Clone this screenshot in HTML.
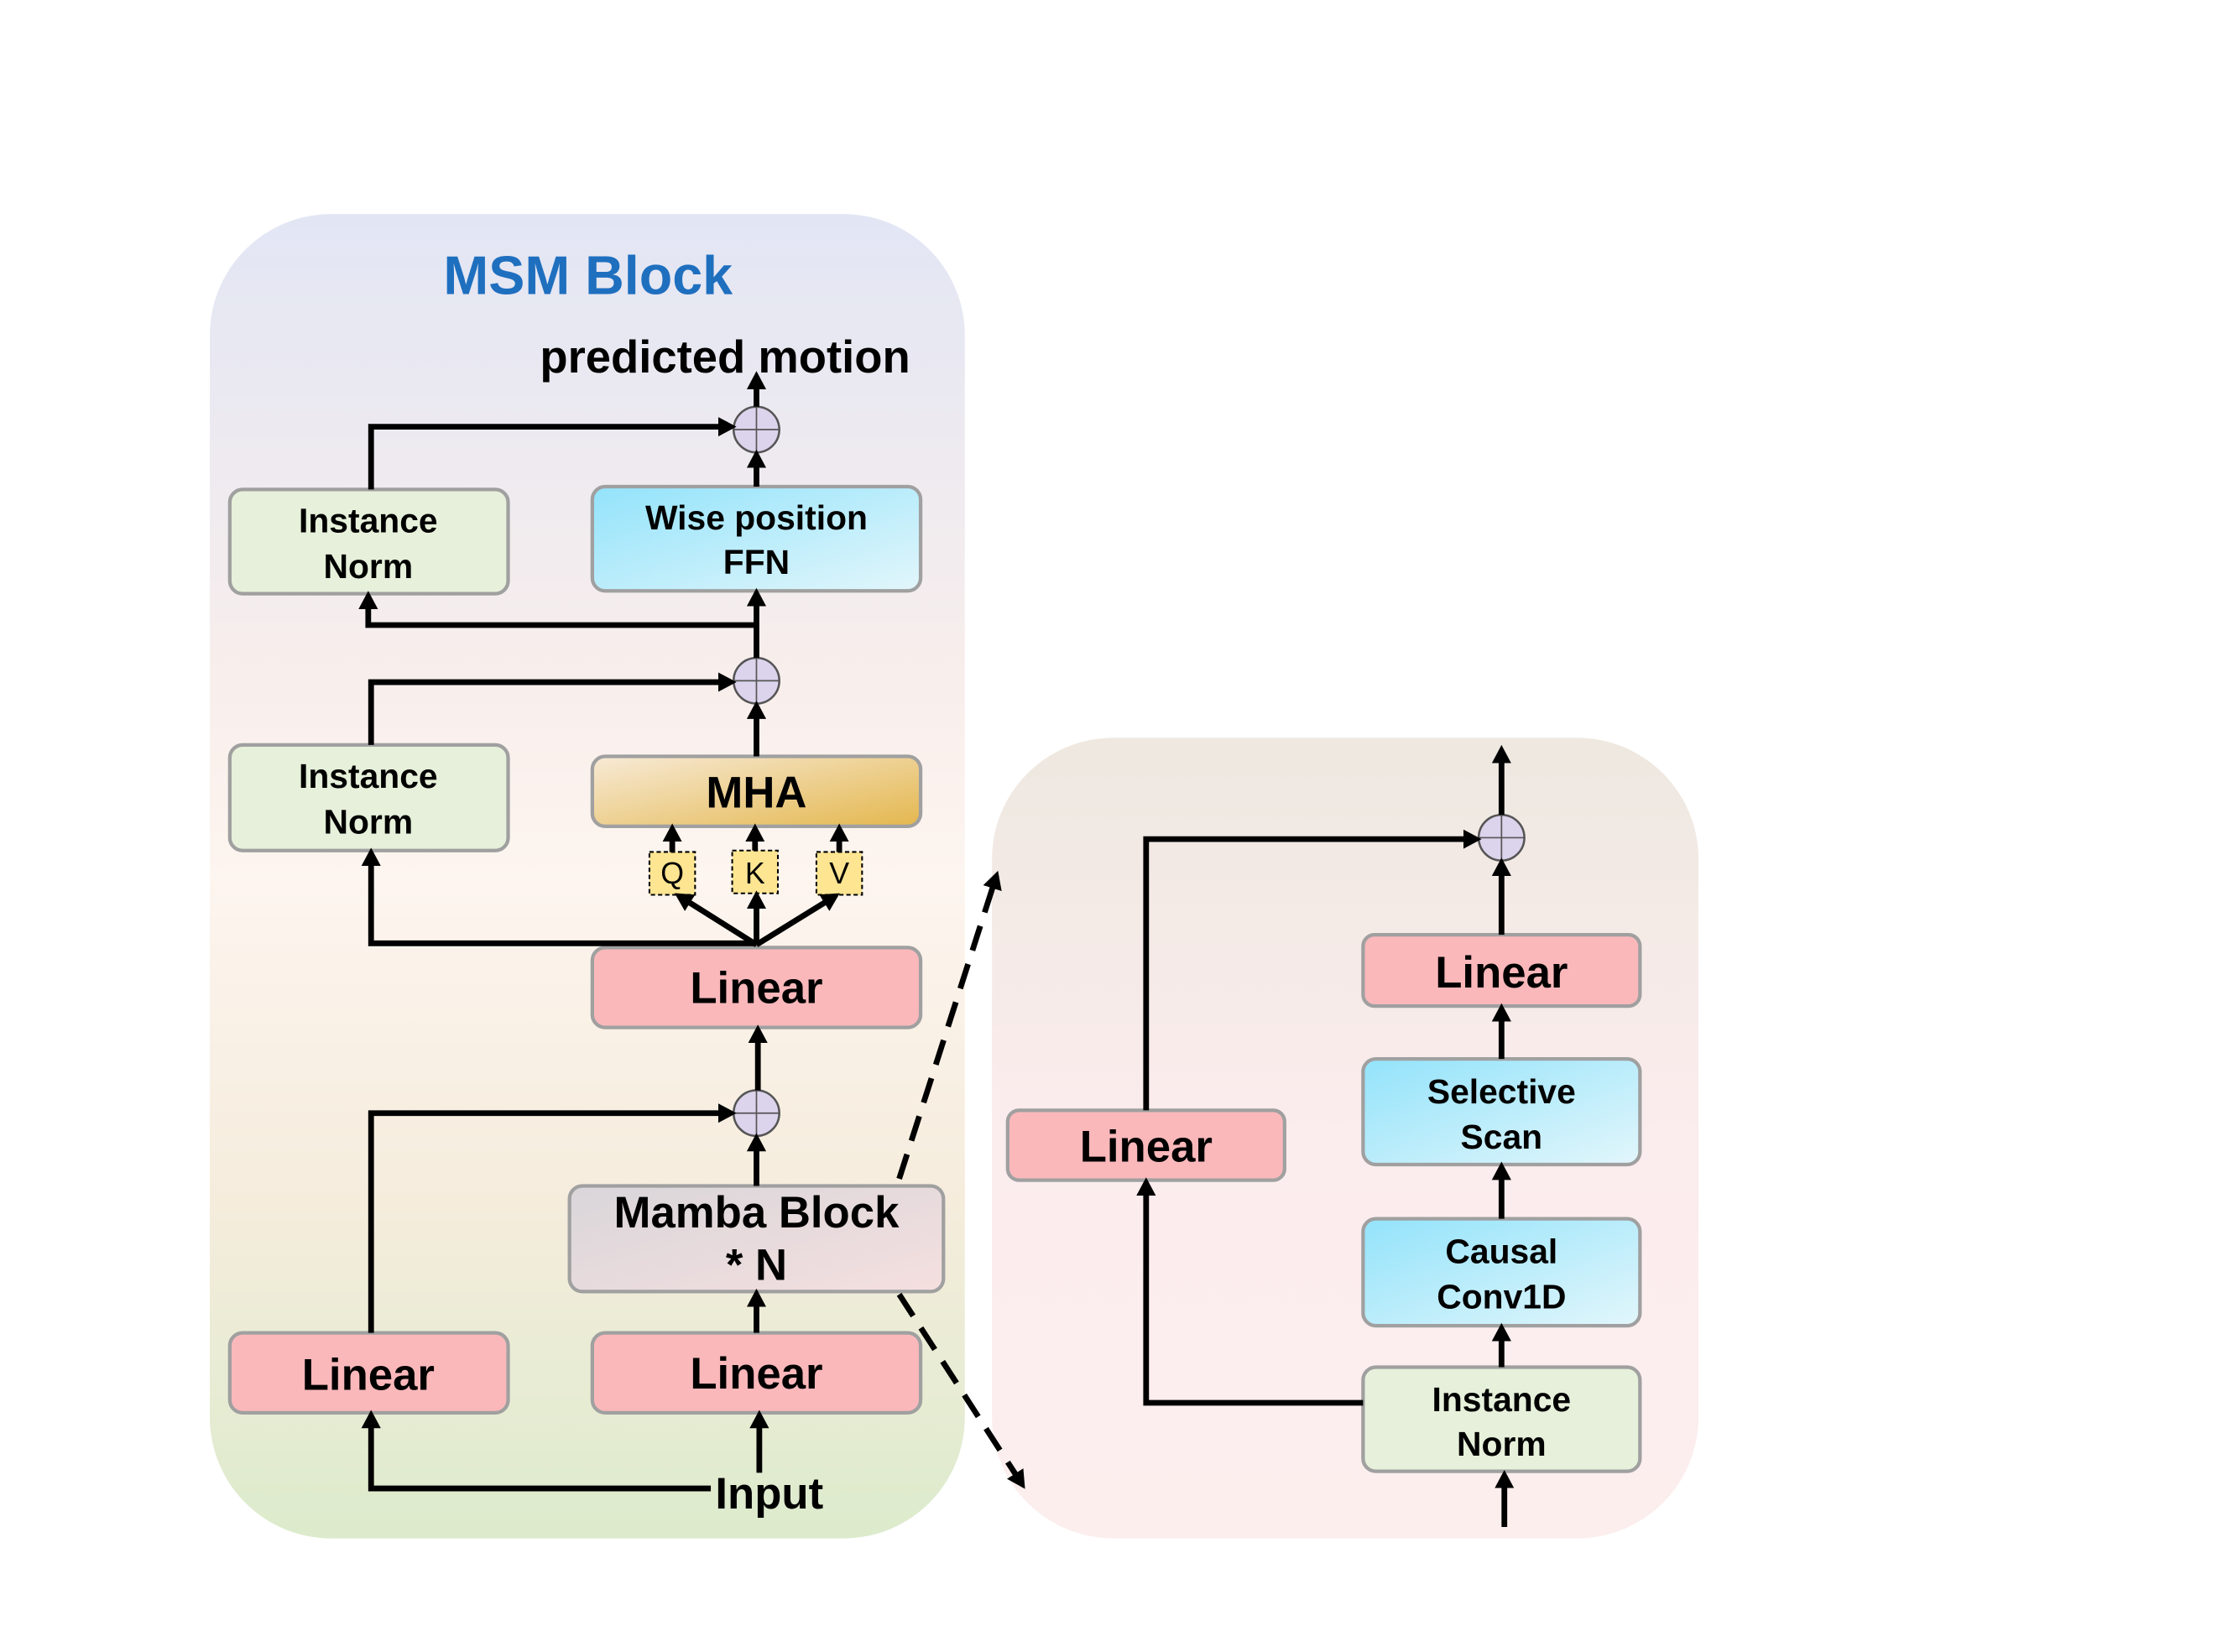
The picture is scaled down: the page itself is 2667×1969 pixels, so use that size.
<!DOCTYPE html>
<html><head><meta charset="utf-8"><style>html,body{margin:0;padding:0;background:#fff}svg{display:block}</style></head><body>
<svg width="2667" height="1969" viewBox="0 0 1568 1157.6" xmlns="http://www.w3.org/2000/svg" font-family="Liberation Sans, sans-serif" font-weight="bold">
<defs>
<linearGradient id="lp" x1="0" y1="0" x2="0" y2="1"><stop offset="0" stop-color="#e2e6f4"/><stop offset="0.35" stop-color="#f8eeec"/><stop offset="0.5" stop-color="#fdf5ef"/><stop offset="0.75" stop-color="#f5ecdc"/><stop offset="1" stop-color="#dcebcc"/></linearGradient>
<linearGradient id="rp" x1="0" y1="0" x2="0" y2="1"><stop offset="0" stop-color="#eee8e0"/><stop offset="0.5" stop-color="#fbeced"/><stop offset="1" stop-color="#fdeeee"/></linearGradient>
<linearGradient id="cy" x1="0" y1="0" x2="1" y2="1"><stop offset="0" stop-color="#93e3fb"/><stop offset="1" stop-color="#e2f6fb"/></linearGradient>
<linearGradient id="mha" x1="0" y1="0" x2="1" y2="1"><stop offset="0" stop-color="#f7ead6"/><stop offset="1" stop-color="#e4b74e"/></linearGradient>
<linearGradient id="mb" x1="0" y1="0" x2="1" y2="1"><stop offset="0" stop-color="#d9d6da"/><stop offset="1" stop-color="#f5dfdf"/></linearGradient>
<marker id="a" markerWidth="4" markerHeight="4" refX="2.2" refY="2" orient="auto" markerUnits="strokeWidth"><path d="M0,0.3 L3.2,2 L0,3.7 Z" fill="#000"/></marker>
</defs>
<rect x="147" y="150" width="529" height="928" rx="85" fill="url(#lp)"/>
<rect x="695" y="517" width="495" height="561" rx="85" fill="url(#rp)"/>
<text x="412" y="206" font-size="38" fill="#1f6fbf" text-anchor="middle">MSM Block</text>
<text x="508" y="261" font-size="32" text-anchor="middle">predicted motion</text>
<g stroke="#a0a0a0" stroke-width="2.5">
<rect x="161" y="343" width="195" height="73" rx="9" fill="#e6f0da"/>
<rect x="415" y="341" width="230" height="73" rx="9" fill="url(#cy)"/>
<rect x="161" y="522" width="195" height="74" rx="9" fill="#e6f0da"/>
<rect x="415" y="530" width="230" height="49" rx="9" fill="url(#mha)"/>
<rect x="415" y="664" width="230" height="56" rx="9" fill="#fab8bb"/>
<rect x="399" y="831" width="262" height="74" rx="9" fill="url(#mb)"/>
<rect x="161" y="934" width="195" height="56" rx="9" fill="#fab8bb"/>
<rect x="415" y="934" width="230" height="56" rx="9" fill="#fab8bb"/>
<rect x="706" y="778" width="194" height="49" rx="8" fill="#fab8bb"/>
<rect x="955" y="655" width="194" height="50" rx="8" fill="#fab8bb"/>
<rect x="955" y="742" width="194" height="74" rx="9" fill="url(#cy)"/>
<rect x="955" y="854" width="194" height="75" rx="9" fill="url(#cy)"/>
<rect x="955" y="958" width="194" height="73" rx="9" fill="#e6f0da"/>
</g>
<g stroke="#000" stroke-width="1.2" stroke-dasharray="3,2" fill="#fde592">
<rect x="455" y="597" width="32" height="30"/><rect x="513" y="596" width="32" height="30"/><rect x="572" y="597" width="32" height="30"/>
</g>
<g font-weight="normal" font-size="21" text-anchor="middle"><text x="471" y="619">Q</text><text x="529" y="619">K</text><text x="588" y="619">V</text></g>
<g font-size="24" text-anchor="middle">
<text x="258" y="373">Instance</text><text x="258" y="405">Norm</text>
<text x="530" y="371">Wise position</text><text x="530" y="402">FFN</text>
<text x="258" y="552">Instance</text><text x="258" y="584">Norm</text>
<text x="1052" y="773">Selective</text><text x="1052" y="805">Scan</text>
<text x="1052" y="885">Causal</text><text x="1052" y="917">Conv1D</text>
<text x="1052" y="989">Instance</text><text x="1052" y="1020">Norm</text>
</g>
<g font-size="31" text-anchor="middle">
<text x="530" y="566">MHA</text>
<text x="530" y="703">Linear</text>
<text x="530" y="860">Mamba Block</text><text x="530" y="897">* N</text>
<text x="258" y="974">Linear</text>
<text x="530" y="973">Linear</text>
<text x="539" y="1057">Input</text>
<text x="803" y="814">Linear</text>
<text x="1052" y="692">Linear</text>
</g>
<g fill="#dcd3ec" stroke="#555" stroke-width="1.5">
<circle cx="530" cy="301" r="16"/><circle cx="530" cy="477" r="16"/><circle cx="530" cy="780" r="16"/><circle cx="1052" cy="587" r="16"/>
</g>
<g stroke="#555" stroke-width="1"><path d="M514,301H546M530,285V317M514,477H546M530,461V493M514,780H546M530,764V796M1036,587H1068M1052,571V603"/></g>
<g stroke="#000" stroke-width="4" fill="none" marker-end="url(#a)">
<path d="M532,1032V992"/>
<path d="M498,1043H260V992"/>
<path d="M530,934V907"/>
<path d="M260,934V780H512"/>
<path d="M530,831V798"/>
<path d="M531,764V722"/>
<path d="M530,662L476,628"/><path d="M530,662V628"/><path d="M530,662L585,628"/>
<path d="M530,661H260V598"/>
<path d="M471,597V581"/><path d="M529,596V581"/><path d="M588,597V581"/>
<path d="M530,530V495"/>
<path d="M260,522V478H512"/>
<path d="M530,461V416"/>
<path d="M530,438H258V418"/>
<path d="M260,343V299H512"/>
<path d="M530,341V319"/>
<path d="M530,285V264"/>
<path d="M1054,1070V1034"/>
<path d="M1052,958V931"/>
<path d="M1052,854V818"/>
<path d="M1052,742V707"/>
<path d="M1052,655V605"/>
<path d="M1052,571V526"/>
<path d="M955,983H803V829"/>
<path d="M803,778V588H1034"/>
<path d="M630,826L698,614" stroke-dasharray="18,10"/>
<path d="M630,907L716,1040" stroke-dasharray="18,10"/>
</g>
</svg>
</body></html>
